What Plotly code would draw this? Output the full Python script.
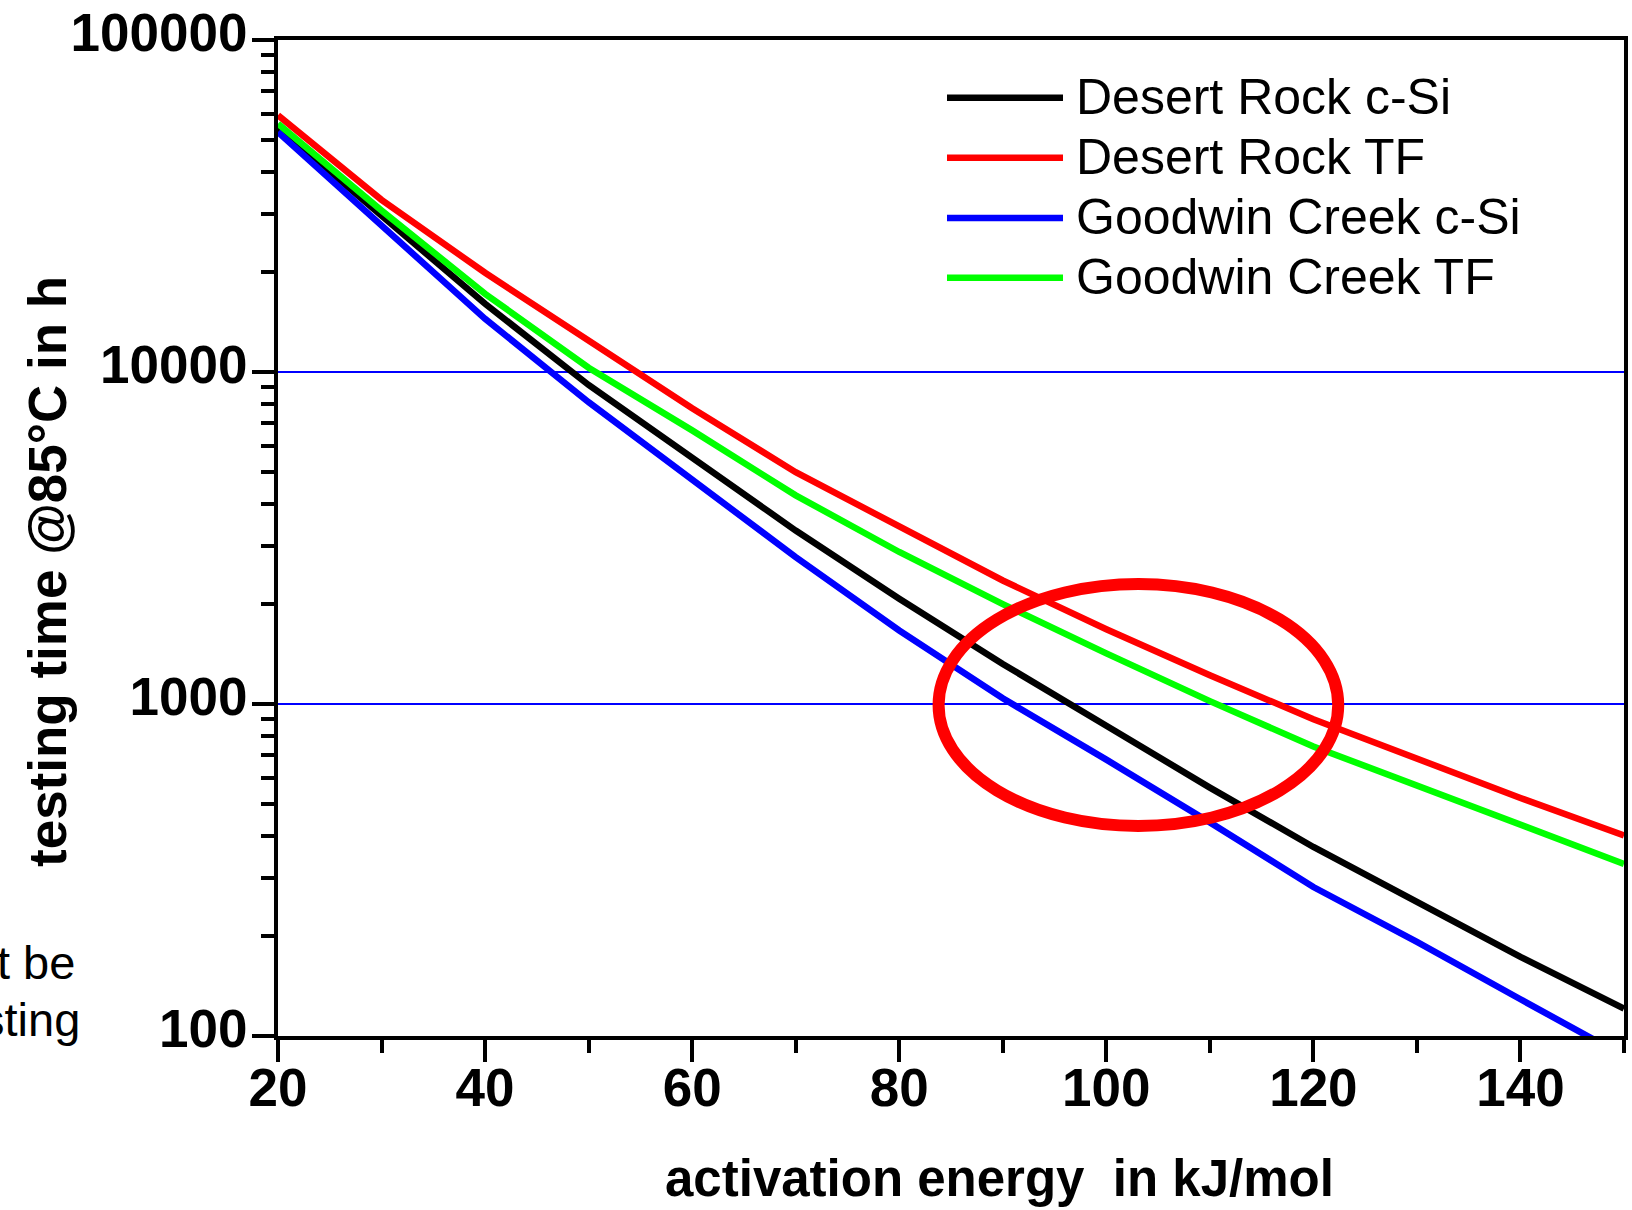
import plotly.graph_objects as go

# activation energy in kJ/mol
energy = [20, 30, 40, 50, 60, 70, 80, 90, 100, 110, 120, 130, 140, 150]
# testing time @85°C in h
desert_rock_csi = [54500, 29600, 16050, 9140, 5540, 3330, 2075, 1320, 860, 560, 371, 253, 173, 121]
desert_rock_tf = [59300, 33000, 19900, 12500, 7780, 4990, 3410, 2355, 1680, 1220, 900, 681, 521, 402]
goodwin_creek_csi = [52800, 27630, 14460, 8110, 4710, 2770, 1665, 1040, 680, 440, 281, 192, 129, 87]
goodwin_creek_tf = [55900, 30650, 17200, 10300, 6670, 4250, 2870, 2000, 1420, 1020, 745, 568, 433, 330]

series_names = ["Desert Rock c-Si", "Desert Rock TF", "Goodwin Creek c-Si", "Goodwin Creek TF"]
series_values = [desert_rock_csi, desert_rock_tf, goodwin_creek_csi, goodwin_creek_tf]
series_colors = ["#000000", "#ff0000", "#0000ff", "#00ff00"]

x_ticks = [20, 40, 60, 80, 100, 120, 140]
y_ticks = [100, 1000, 10000, 100000]
y_ticktext = ["100", "1000", "10000", "100000"]

W, H = 1632, 1210
L, R, T, B = 278, 8, 40, 174
PW, PH = W - L - R, H - T - B


def px(xpix):
    return (xpix - L) / PW


def py(ypix):
    return (H - B - ypix) / PH


SANS = "Liberation Sans, Arial, sans-serif"

fig = go.Figure()
for i in [0, 1, 2, 3]:
    fig.add_trace(go.Scatter(
        x=energy, y=series_values[i], mode="lines", name=series_names[i],
        line=dict(color=series_colors[i], width=6.5), showlegend=False,
    ))

shapes = []
annotations = []

# custom legend
leg_y = [97.7, 157.7, 218.0, 277.7]
for i in range(4):
    shapes.append(dict(type="line", xref="paper", yref="paper",
                       x0=px(947), x1=px(1063), y0=py(leg_y[i]), y1=py(leg_y[i]),
                       line=dict(color=series_colors[i], width=6.5)))
    annotations.append(dict(xref="paper", yref="paper", x=px(1074), y=py(leg_y[i] - 1),
                            xanchor="left", yanchor="middle", showarrow=False,
                            text=series_names[i],
                            font=dict(family=SANS, size=50, color="black")))

# red highlight ellipse
shapes.append(dict(type="circle", xref="x", yref="paper",
                   x0=83.8, x1=122.4, y0=py(826), y1=py(584),
                   line=dict(color="#ff0000", width=12), layer="above"))

# axis titles
annotations.append(dict(xref="paper", yref="paper", x=px(999), y=py(1178),
                        xanchor="center", yanchor="middle", showarrow=False,
                        text="activation energy&nbsp; in kJ/mol",
                        font=dict(family=SANS, size=51, color="black", weight="bold")))
annotations.append(dict(xref="paper", yref="paper", x=px(47), y=py(572),
                        xanchor="center", yanchor="middle", showarrow=False, textangle=-90,
                        text="testing time @85°C in h",
                        font=dict(family=SANS, size=53, color="black", weight="bold")))

# partially cropped text at the left edge
annotations.append(dict(xref="paper", yref="paper", x=px(77), y=py(962),
                        xanchor="right", yanchor="middle", showarrow=False,
                        text="t be", font=dict(family=SANS, size=47, color="black")))
annotations.append(dict(xref="paper", yref="paper", x=px(82), y=py(1019),
                        xanchor="right", yanchor="middle", showarrow=False,
                        text="sting", font=dict(family=SANS, size=47, color="black")))

fig.update_layout(
    width=W, height=H,
    margin=dict(l=L, r=R, t=T, b=B, pad=0, autoexpand=False),
    paper_bgcolor="white", plot_bgcolor="white",
    shapes=shapes, annotations=annotations,
    showlegend=False,
)

fig.update_xaxes(
    range=[20, 150], tickmode="array", tickvals=x_ticks,
    showline=True, linecolor="black", linewidth=4, mirror=True,
    ticks="outside", ticklen=22, tickwidth=3.5, tickcolor="black",
    minor=dict(ticks="outside", ticklen=13, tickwidth=3.5, tickcolor="black", dtick=10, showgrid=False),
    showgrid=False, zeroline=False, automargin=False,
    tickfont=dict(family=SANS, size=53, color="black", weight="bold"),
    ticklabelstandoff=-20,
)
fig.update_yaxes(
    type="log", range=[2, 5], tickmode="array", tickvals=y_ticks, ticktext=y_ticktext,
    showline=True, linecolor="black", linewidth=4, mirror=True,
    ticks="outside", ticklen=22, tickwidth=3.5, tickcolor="black",
    minor=dict(ticks="outside", ticklen=13, tickwidth=3.5, tickcolor="black", dtick="D1", showgrid=False),
    showgrid=True, gridcolor="#0000ff", gridwidth=1.5, zeroline=False, automargin=False,
    tickfont=dict(family=SANS, size=53, color="black", weight="bold"),
    ticklabelstandoff=-6, ticklabelshift=-8,
)

fig.write_html("out.html")
